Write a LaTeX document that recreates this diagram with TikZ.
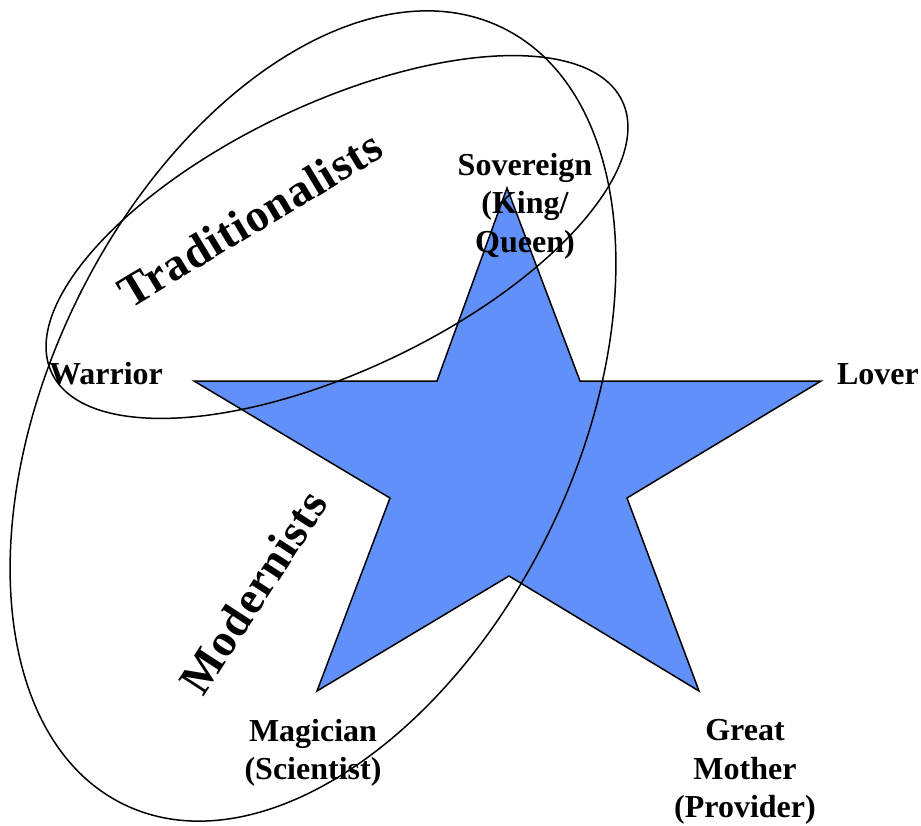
\documentclass[tikz,border=0pt]{standalone}
\usepackage{fontspec}
\setmainfont{Liberation Serif}
\newfontfamily\titfont[LetterSpace=2]{Liberation Serif}
\definecolor{stella}{RGB}{96,144,248}
\begin{document}
\begin{tikzpicture}[x=1pt, y=-1pt, line width=1.5pt,
	etich/.style={font=\fontsize{32}{38.5}\selectfont\bfseries,
		align=center, inner sep=0pt},
	titolo/.style={font=\titfont\fontsize{46}{50}\selectfont\bfseries, inner sep=0pt},
	insieme/.style={draw=black, line width=1.5pt},
	]
	
	\useasboundingbox (0,0) rectangle (921,825);
	
	%% ── Punte della stella ───────────────────────────────────────────────────
	\coordinate (pS)  at (507,188);  % Sovereign
	\coordinate (pL)  at (821,381);  % Lover
	\coordinate (pGM) at (699,691);  % Great Mother
	\coordinate (pM)  at (317,691);  % Magician
	\coordinate (pW)  at (194,381);  % Warrior
	
	%% ── Vertici interni ──────────────────────────────────────────────────────
	\coordinate (iNE) at (580,381);
	\coordinate (iSE) at (627,498);
	\coordinate (iS)  at (509,576);
	\coordinate (iSW) at (390,498);
	\coordinate (iNW) at (437,381);
	
	%% ── Stella ───────────────────────────────────────────────────────────────
	\draw[fill=stella](pS)--(iNE)--(pL)--(iSE)--(pGM)--(iS)--(pM)--(iSW)--(pW)--(iNW)--cycle;
	
	%% ── Insiemi ──────────────────────────────────────────────────────────────
	\draw[insieme, rotate around={25.5:(337,237)}](337,237) ellipse [x radius=316, y radius=133];
	\draw[insieme, rotate around={64:(313,416)}](313,416) ellipse [x radius=432, y radius=263];
	
	%% ── Etichette ────────────────────────────────────────────────────────────
	\node[etich] (sovrano) at (525,206) {Sovereign\\(King/\\Queen)};
	\node[etich, anchor=base] (guerriero) at (106,384) {Warrior};
	\node[etich, anchor=base] (amante) at (878,384) {Lover};
	\node[etich] (mago) at (313,753) {Magician\\(Scientist)};
	\node[etich] (madre) at (745,772) {Great\\Mother\\(Provider)};
	
	%% ── Titoli ───────────────────────────────────────────────────────────────
	\node[titolo, rotate=31] (trad) at (250,219) {Traditionalists};
	\node[titolo, rotate=57] (mod) at (253,592) {Modernists};
	
\end{tikzpicture}
\end{document}
